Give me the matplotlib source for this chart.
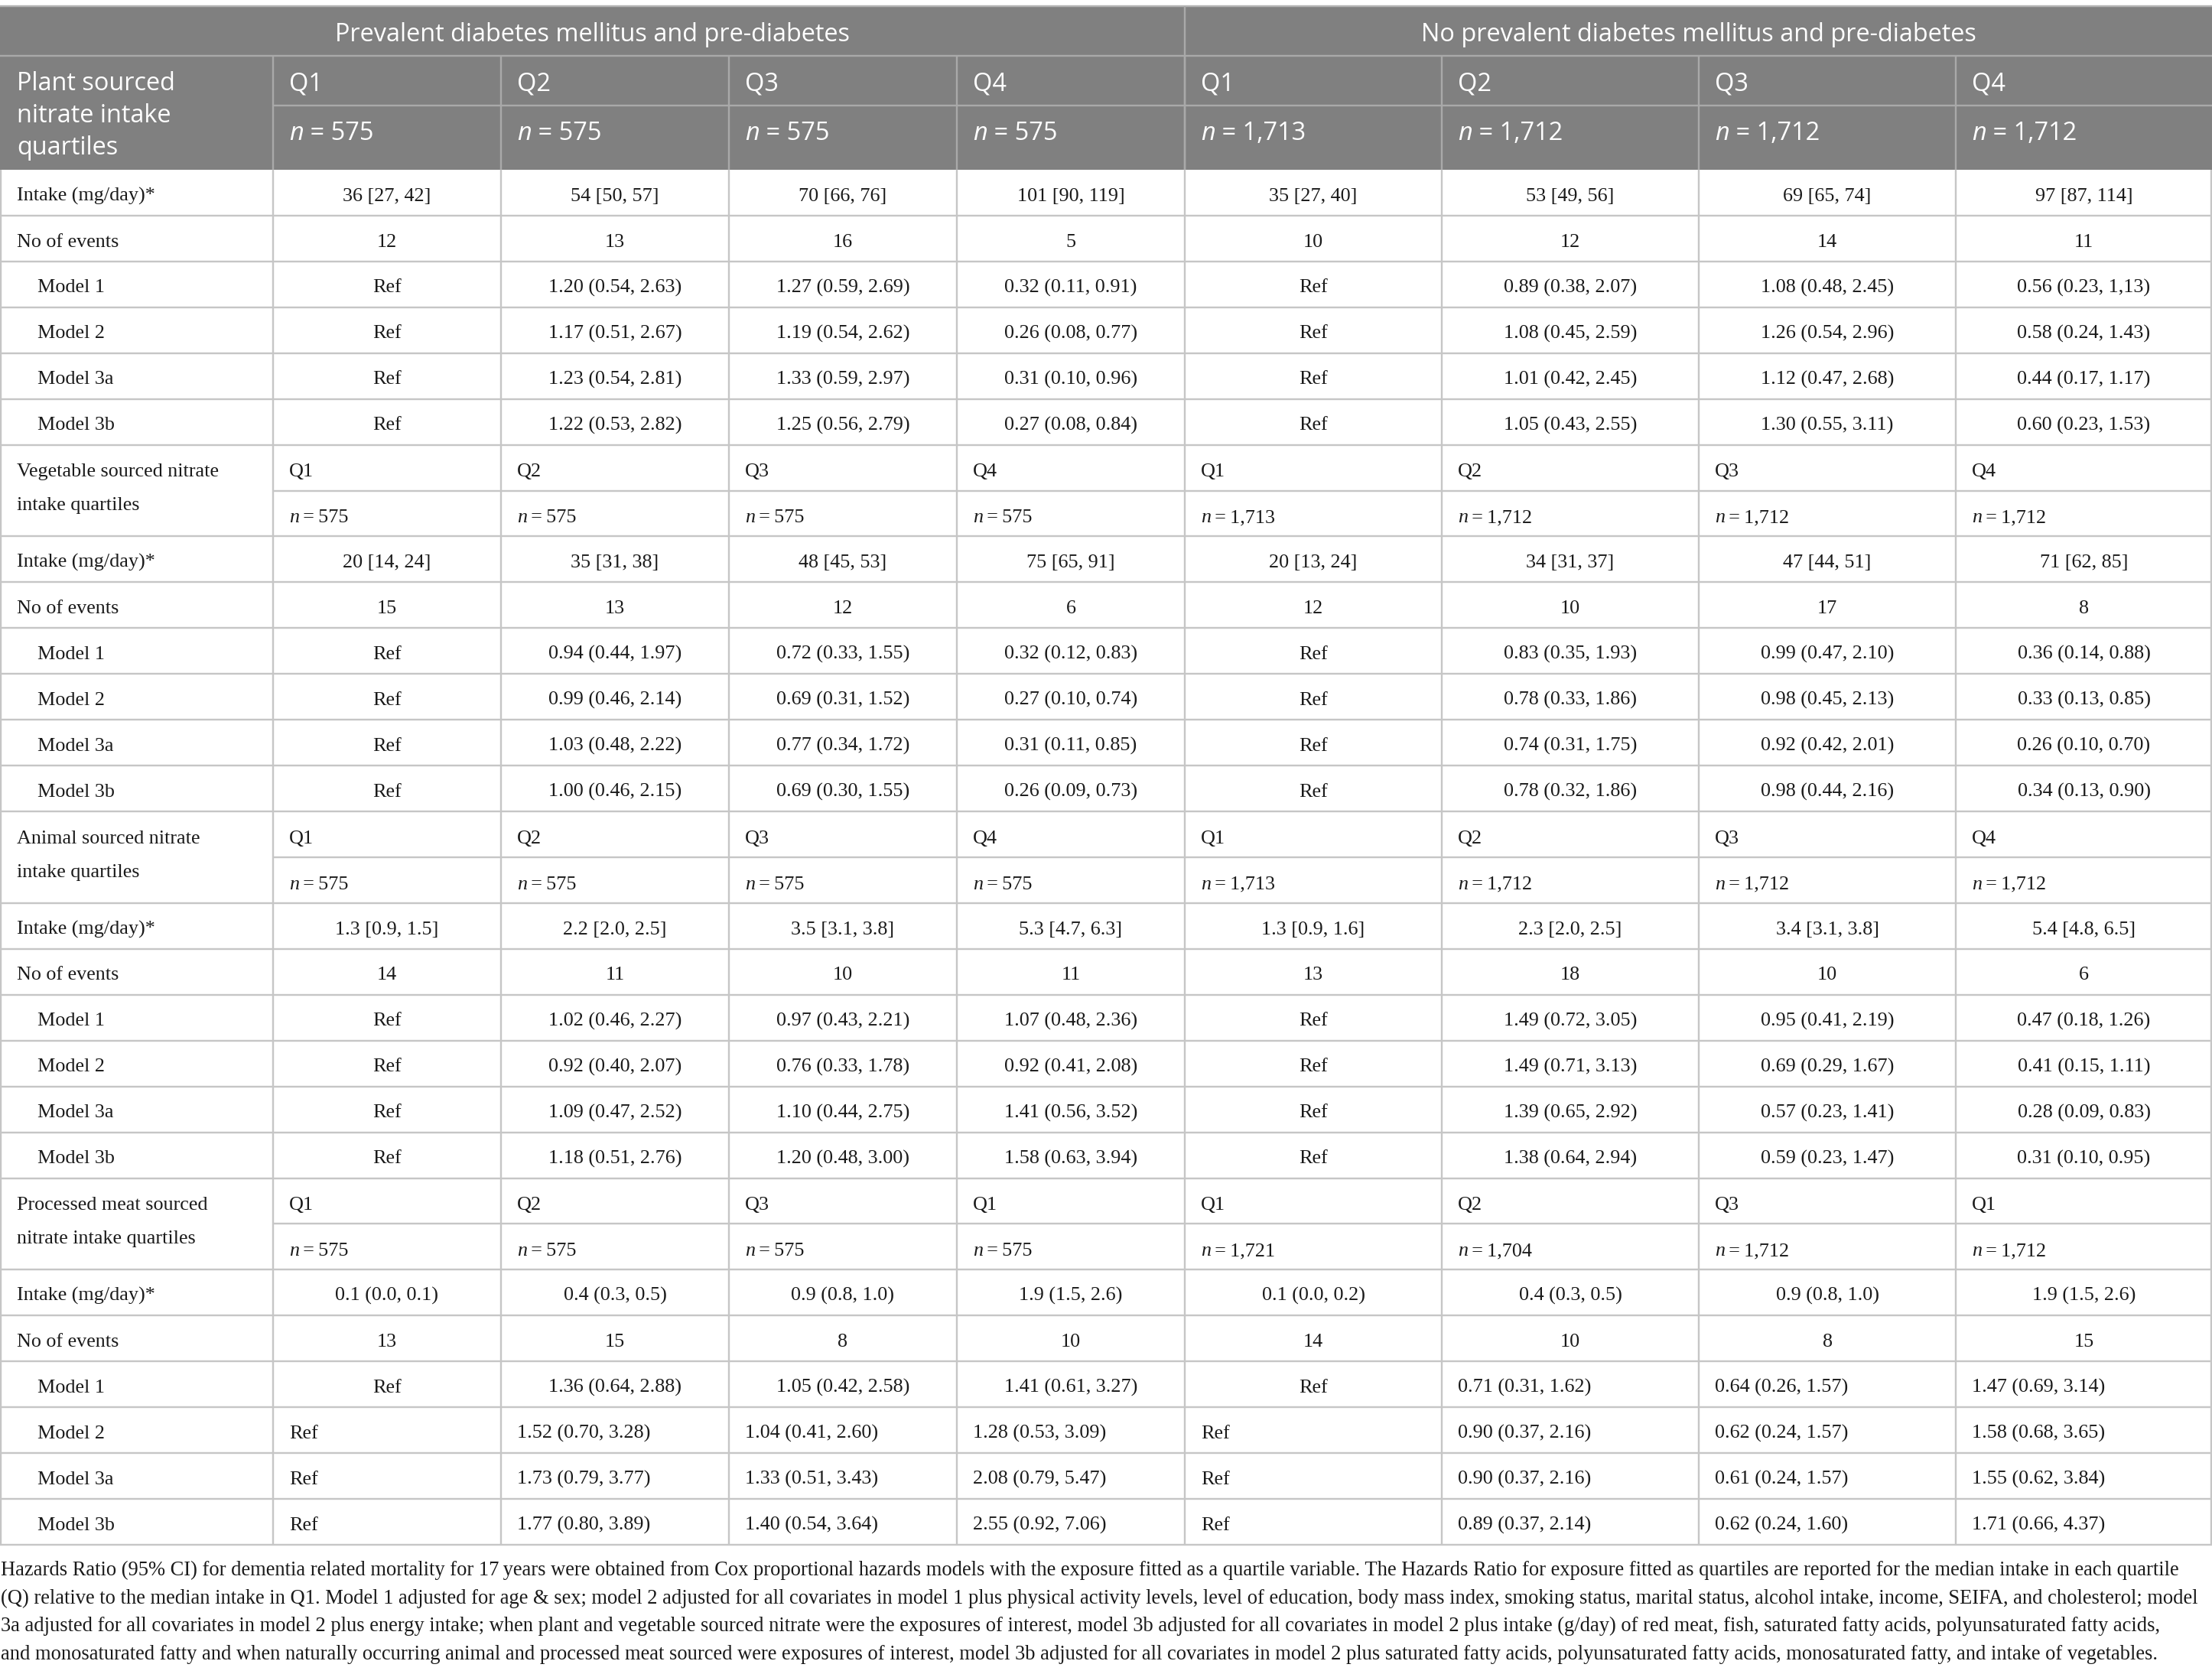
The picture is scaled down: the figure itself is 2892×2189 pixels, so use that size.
import matplotlib
matplotlib.use("Agg")
import matplotlib.pyplot as plt
from matplotlib.patches import Rectangle

# ---------------- data ----------------
group_titles = ["Prevalent diabetes mellitus and pre-diabetes",
                "No prevalent diabetes mellitus and pre-diabetes"]
row_labels = ["Intake (mg/day)*", "No of events", "Model 1", "Model 2", "Model 3a", "Model 3b"]

plant_label = ["Plant sourced", "nitrate intake", "quartiles"]
plant_q = ["Q1", "Q2", "Q3", "Q4", "Q1", "Q2", "Q3", "Q4"]
plant_n = ["575", "575", "575", "575", "1,713", "1,712", "1,712", "1,712"]
plant_intake = ["36 [27, 42]", "54 [50, 57]", "70 [66, 76]", "101 [90, 119]",
                "35 [27, 40]", "53 [49, 56]", "69 [65, 74]", "97 [87, 114]"]
plant_events = ["12", "13", "16", "5", "10", "12", "14", "11"]
plant_m1 = ["Ref", "1.20 (0.54, 2.63)", "1.27 (0.59, 2.69)", "0.32 (0.11, 0.91)",
            "Ref", "0.89 (0.38, 2.07)", "1.08 (0.48, 2.45)", "0.56 (0.23, 1,13)"]
plant_m2 = ["Ref", "1.17 (0.51, 2.67)", "1.19 (0.54, 2.62)", "0.26 (0.08, 0.77)",
            "Ref", "1.08 (0.45, 2.59)", "1.26 (0.54, 2.96)", "0.58 (0.24, 1.43)"]
plant_m3a = ["Ref", "1.23 (0.54, 2.81)", "1.33 (0.59, 2.97)", "0.31 (0.10, 0.96)",
             "Ref", "1.01 (0.42, 2.45)", "1.12 (0.47, 2.68)", "0.44 (0.17, 1.17)"]
plant_m3b = ["Ref", "1.22 (0.53, 2.82)", "1.25 (0.56, 2.79)", "0.27 (0.08, 0.84)",
             "Ref", "1.05 (0.43, 2.55)", "1.30 (0.55, 3.11)", "0.60 (0.23, 1.53)"]

veg_label = ["Vegetable sourced nitrate", "intake quartiles"]
veg_q = ["Q1", "Q2", "Q3", "Q4", "Q1", "Q2", "Q3", "Q4"]
veg_n = ["575", "575", "575", "575", "1,713", "1,712", "1,712", "1,712"]
veg_intake = ["20 [14, 24]", "35 [31, 38]", "48 [45, 53]", "75 [65, 91]",
              "20 [13, 24]", "34 [31, 37]", "47 [44, 51]", "71 [62, 85]"]
veg_events = ["15", "13", "12", "6", "12", "10", "17", "8"]
veg_m1 = ["Ref", "0.94 (0.44, 1.97)", "0.72 (0.33, 1.55)", "0.32 (0.12, 0.83)",
          "Ref", "0.83 (0.35, 1.93)", "0.99 (0.47, 2.10)", "0.36 (0.14, 0.88)"]
veg_m2 = ["Ref", "0.99 (0.46, 2.14)", "0.69 (0.31, 1.52)", "0.27 (0.10, 0.74)",
          "Ref", "0.78 (0.33, 1.86)", "0.98 (0.45, 2.13)", "0.33 (0.13, 0.85)"]
veg_m3a = ["Ref", "1.03 (0.48, 2.22)", "0.77 (0.34, 1.72)", "0.31 (0.11, 0.85)",
           "Ref", "0.74 (0.31, 1.75)", "0.92 (0.42, 2.01)", "0.26 (0.10, 0.70)"]
veg_m3b = ["Ref", "1.00 (0.46, 2.15)", "0.69 (0.30, 1.55)", "0.26 (0.09, 0.73)",
           "Ref", "0.78 (0.32, 1.86)", "0.98 (0.44, 2.16)", "0.34 (0.13, 0.90)"]

animal_label = ["Animal sourced nitrate", "intake quartiles"]
animal_q = ["Q1", "Q2", "Q3", "Q4", "Q1", "Q2", "Q3", "Q4"]
animal_n = ["575", "575", "575", "575", "1,713", "1,712", "1,712", "1,712"]
animal_intake = ["1.3 [0.9, 1.5]", "2.2 [2.0, 2.5]", "3.5 [3.1, 3.8]", "5.3 [4.7, 6.3]",
                 "1.3 [0.9, 1.6]", "2.3 [2.0, 2.5]", "3.4 [3.1, 3.8]", "5.4 [4.8, 6.5]"]
animal_events = ["14", "11", "10", "11", "13", "18", "10", "6"]
animal_m1 = ["Ref", "1.02 (0.46, 2.27)", "0.97 (0.43, 2.21)", "1.07 (0.48, 2.36)",
             "Ref", "1.49 (0.72, 3.05)", "0.95 (0.41, 2.19)", "0.47 (0.18, 1.26)"]
animal_m2 = ["Ref", "0.92 (0.40, 2.07)", "0.76 (0.33, 1.78)", "0.92 (0.41, 2.08)",
             "Ref", "1.49 (0.71, 3.13)", "0.69 (0.29, 1.67)", "0.41 (0.15, 1.11)"]
animal_m3a = ["Ref", "1.09 (0.47, 2.52)", "1.10 (0.44, 2.75)", "1.41 (0.56, 3.52)",
              "Ref", "1.39 (0.65, 2.92)", "0.57 (0.23, 1.41)", "0.28 (0.09, 0.83)"]
animal_m3b = ["Ref", "1.18 (0.51, 2.76)", "1.20 (0.48, 3.00)", "1.58 (0.63, 3.94)",
              "Ref", "1.38 (0.64, 2.94)", "0.59 (0.23, 1.47)", "0.31 (0.10, 0.95)"]

proc_label = ["Processed meat sourced", "nitrate intake quartiles"]
proc_q = ["Q1", "Q2", "Q3", "Q1", "Q1", "Q2", "Q3", "Q1"]
proc_n = ["575", "575", "575", "575", "1,721", "1,704", "1,712", "1,712"]
proc_intake = ["0.1 (0.0, 0.1)", "0.4 (0.3, 0.5)", "0.9 (0.8, 1.0)", "1.9 (1.5, 2.6)",
               "0.1 (0.0, 0.2)", "0.4 (0.3, 0.5)", "0.9 (0.8, 1.0)", "1.9 (1.5, 2.6)"]
proc_events = ["13", "15", "8", "10", "14", "10", "8", "15"]
proc_m1 = ["Ref", "1.36 (0.64, 2.88)", "1.05 (0.42, 2.58)", "1.41 (0.61, 3.27)",
           "Ref", "0.71 (0.31, 1.62)", "0.64 (0.26, 1.57)", "1.47 (0.69, 3.14)"]
proc_m2 = ["Ref", "1.52 (0.70, 3.28)", "1.04 (0.41, 2.60)", "1.28 (0.53, 3.09)",
           "Ref", "0.90 (0.37, 2.16)", "0.62 (0.24, 1.57)", "1.58 (0.68, 3.65)"]
proc_m3a = ["Ref", "1.73 (0.79, 3.77)", "1.33 (0.51, 3.43)", "2.08 (0.79, 5.47)",
            "Ref", "0.90 (0.37, 2.16)", "0.61 (0.24, 1.57)", "1.55 (0.62, 3.84)"]
proc_m3b = ["Ref", "1.77 (0.80, 3.89)", "1.40 (0.54, 3.64)", "2.55 (0.92, 7.06)",
            "Ref", "0.89 (0.37, 2.14)", "0.62 (0.24, 1.60)", "1.71 (0.66, 4.37)"]

footnote_lines = [
    "Hazards Ratio (95% CI) for dementia related mortality for 17\u2009years were obtained from Cox proportional hazards models with the exposure fitted as a quartile variable. The Hazards Ratio for exposure fitted as quartiles are reported for the median intake in each quartile",
    "(Q) relative to the median intake in Q1. Model 1 adjusted for age & sex; model 2 adjusted for all covariates in model 1 plus physical activity levels, level of education, body mass index, smoking status, marital status, alcohol intake, income, SEIFA, and cholesterol; model",
    "3a adjusted for all covariates in model 2 plus energy intake; when plant and vegetable sourced nitrate were the exposures of interest, model 3b adjusted for all covariates in model 2 plus intake (g/day) of red meat, fish, saturated fatty acids, polyunsaturated fatty acids,",
    "and monosaturated fatty and when naturally occurring animal and processed meat sourced were exposures of interest, model 3b adjusted for all covariates in model 2 plus saturated fatty acids, polyunsaturated fatty acids, monosaturated fatty, and intake of vegetables.",
]

# cell alignment for the model rows ('c' centre, 'l' left)
C8 = ["c"] * 8
plant_align = [C8, C8, C8, C8]
veg_align = [C8, C8, C8, C8]
animal_align = [C8, C8, C8, C8]
proc_align = [["c", "c", "c", "c", "c", "l", "l", "l"], ["l"] * 8, ["l"] * 8, ["l"] * 8]

sections = [
    dict(label=plant_label, q=plant_q, n=plant_n, intake=plant_intake, events=plant_events,
         models=[plant_m1, plant_m2, plant_m3a, plant_m3b], align=plant_align),
    dict(label=veg_label, q=veg_q, n=veg_n, intake=veg_intake, events=veg_events,
         models=[veg_m1, veg_m2, veg_m3a, veg_m3b], align=veg_align),
    dict(label=animal_label, q=animal_q, n=animal_n, intake=animal_intake, events=animal_events,
         models=[animal_m1, animal_m2, animal_m3a, animal_m3b], align=animal_align),
    dict(label=proc_label, q=proc_q, n=proc_n, intake=proc_intake, events=proc_events,
         models=[proc_m1, proc_m2, proc_m3a, proc_m3b], align=proc_align),
]

# ---------------- layout / style ----------------
W, H, DPI = 2892, 2189, 100
SERIF = ["Liberation Serif", "DejaVu Serif"]
SANS = ["Open Sans", "DejaVu Sans"]
BODY_PT = 18.8
HEAD_PT = 23.4
HEAD_BG = "#808080"
HEAD_LINE = "#a9a9a9"
GRID = "#c6c6c6"
LW = 2.4 * 72 / DPI

col_edges = [0, 357, 655, 953, 1251, 1549, 1885, 2221, 2557, 2892]
TOP = 8
HEAD_Y = [TOP, 73, 138, 222]
BODY_BOTTOM = 2020
N_ROWS = 30
RH = (BODY_BOTTOM - HEAD_Y[3]) / N_ROWS

px = DPI / 72.0
body_cap = 0.662 * BODY_PT * px
head_cap = 0.714 * 22.5 * px

fig = plt.figure(figsize=(W / DPI, H / DPI), dpi=DPI)
ax = fig.add_axes([0, 0, 1, 1])
ax.set_xlim(0, W)
ax.set_ylim(H, 0)
ax.axis("off")


def hline(y, x0, x1, color=GRID, lw=LW):
    ax.plot([x0, x1], [y, y], color=color, lw=lw, solid_capstyle="butt", zorder=3)


def vline(x, y0, y1, color=GRID, lw=LW):
    ax.plot([x, x], [y0, y1], color=color, lw=lw, solid_capstyle="butt", zorder=3)


def body_text(x, y_center, s, ha="left", **kw):
    ax.text(x, y_center + body_cap / 2, s, family=SERIF, size=BODY_PT, color="#1a1a1a",
            ha=ha, va="baseline", zorder=4, **kw)


def n_text(x, y_base, value, family, size, color, sep):
    t = ax.text(x, y_base, "n", family=family, size=size, color=color, style="italic",
                ha="left", va="baseline", zorder=4)
    ax.annotate(sep + "=" + sep + value, xy=(1, 0), xycoords=t, family=family, size=size,
                color=color, ha="left", va="bottom", zorder=4)


# ---------------- header ----------------
ax.add_patch(Rectangle((0, TOP), W, HEAD_Y[3] - TOP, facecolor=HEAD_BG, edgecolor="none", zorder=1))
hline(TOP, 0, W, color="#b4b4b4")
hline(HEAD_Y[1], 0, W, color=HEAD_LINE)
hline(HEAD_Y[2], col_edges[1], W, color=HEAD_LINE)
vline(col_edges[5], TOP, HEAD_Y[3], color=HEAD_LINE)
for xe in col_edges[1:-1]:
    vline(xe, HEAD_Y[1], HEAD_Y[3], color=HEAD_LINE)

title_base = (HEAD_Y[0] + HEAD_Y[1]) / 2 + head_cap / 2 + 2
ax.text((col_edges[0] + col_edges[5]) / 2, title_base, group_titles[0], family=SANS,
        size=HEAD_PT, color="white", ha="center", va="baseline", zorder=4)
ax.text((col_edges[5] + col_edges[9]) / 2, title_base, group_titles[1], family=SANS,
        size=HEAD_PT, color="white", ha="center", va="baseline", zorder=4)

for i, line in enumerate(plant_label):
    ax.text(22, 118 + 42 * i, line, family=SANS, size=HEAD_PT, color="white",
            ha="left", va="baseline", zorder=4)
for c in range(8):
    x0 = col_edges[c + 1] + 21
    ax.text(x0, 118, plant_q[c], family=SANS, size=HEAD_PT, color="white",
            ha="left", va="baseline", zorder=4)
    n_text(x0, 183, plant_n[c], SANS, HEAD_PT, "white", " ")

# ---------------- body ----------------
vline(col_edges[0] + 1, HEAD_Y[3], BODY_BOTTOM)
vline(col_edges[-1] - 1, HEAD_Y[3], BODY_BOTTOM)
for xe in col_edges[1:-1]:
    vline(xe, HEAD_Y[3], BODY_BOTTOM)

y = HEAD_Y[3]
for si, sec in enumerate(sections):
    if si > 0:
        qc = y + RH / 2
        nc = y + 1.5 * RH
        body_text(22, qc + 3, sec["label"][0])
        body_text(22, qc + 47, sec["label"][1])
        for c in range(8):
            x0 = col_edges[c + 1] + 21
            body_text(x0, qc + 3, sec["q"][c])
            n_text(x0, nc + 3 + body_cap / 2, sec["n"][c], SERIF, BODY_PT, "#1a1a1a", "\u2009")
        hline(y + RH, col_edges[1], W)
        hline(y + 2 * RH, 0, W)
        y += 2 * RH
    rows = [sec["intake"], sec["events"]] + sec["models"]
    aligns = [C8, C8] + sec["align"]
    for ri, (vals, al) in enumerate(zip(rows, aligns)):
        yc = y + RH / 2 + 2
        body_text(49 if ri >= 2 else 22, yc, row_labels[ri])
        for c in range(8):
            if al[c] == "c":
                body_text((col_edges[c + 1] + col_edges[c + 2]) / 2, yc, vals[c], ha="center")
            else:
                body_text(col_edges[c + 1] + 21, yc, vals[c])
        y += RH
        hline(y, 0, W)

# ---------------- footnote ----------------
renderer = fig.canvas.get_renderer()
widths = []
for line in footnote_lines:
    probe = ax.text(0, 0, line, family=SERIF, size=BODY_PT)
    widths.append(probe.get_window_extent(renderer).width)
    probe.remove()
foot_pt = BODY_PT * 2880.0 / max(widths)
for i, line in enumerate(footnote_lines):
    ax.text(1, 2060 + 36.7 * i, line, family=SERIF, size=foot_pt, color="#1a1a1a",
            ha="left", va="baseline", zorder=4)

fig.savefig("out.png", dpi=DPI, facecolor="white")
